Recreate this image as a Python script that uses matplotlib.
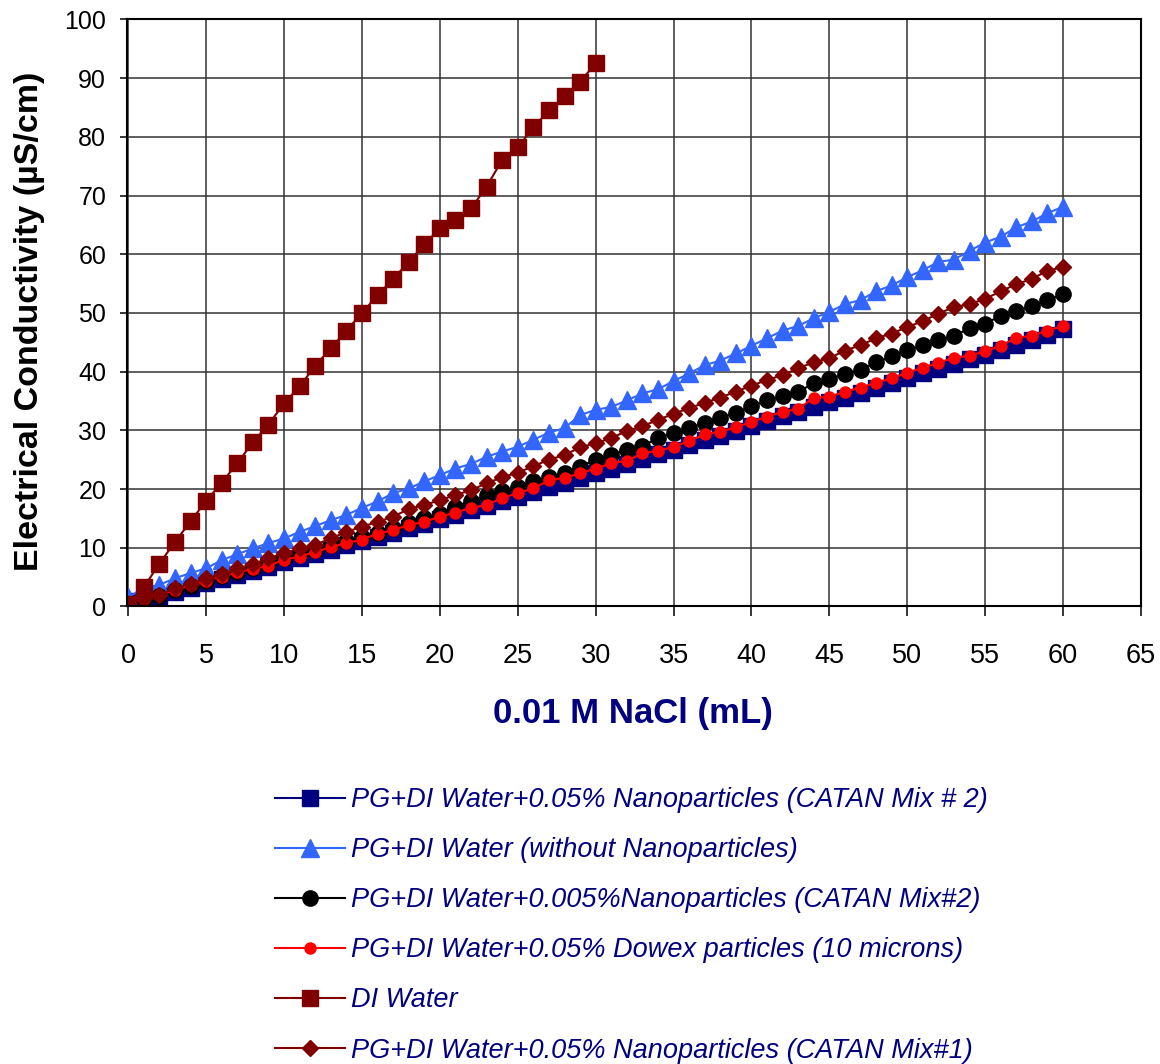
import numpy as np
import matplotlib
matplotlib.use("Agg")
import matplotlib.pyplot as plt

plt.rcParams['font.family'] = ['Liberation Sans', 'DejaVu Sans']

# titration volume (mL)
vol = list(range(0, 61))
vol_di = list(range(0, 31))

navy_sq = [1.0, 1.2, 1.8, 2.5, 3.2, 4.0, 4.7, 5.4, 6.1, 6.8, 7.6, 8.3, 9.0, 9.7, 10.4,
           11.1, 11.9, 12.6, 13.4, 14.1, 14.9, 15.6, 16.4, 17.1, 17.9, 18.7, 19.5, 20.3,
           21.1, 21.9, 22.7, 23.5, 24.3, 25.1, 25.9, 26.7, 27.5, 28.3, 29.1, 29.9, 30.8,
           31.6, 32.4, 33.2, 34.0, 34.8, 35.6, 36.4, 37.2, 38.0, 38.9, 39.7, 40.5, 41.3,
           42.1, 42.9, 43.7, 44.5, 45.4, 46.3, 47.3]
blue_tri = [1.6, 3.1, 3.7, 4.8, 5.7, 6.5, 7.9, 8.9, 9.9, 10.8, 11.6, 12.7, 13.7, 14.7,
            15.6, 16.8, 17.9, 19.3, 20.1, 21.3, 22.4, 23.5, 24.3, 25.5, 26.4, 27.2, 28.4,
            29.6, 30.4, 32.6, 33.5, 34.0, 35.1, 36.3, 37.0, 38.4, 39.7, 41.1, 41.9, 43.1,
            44.4, 45.7, 47.0, 47.8, 49.1, 50.2, 51.5, 52.2, 53.7, 54.7, 56.1, 57.3, 58.7,
            59.1, 60.6, 62.0, 63.0, 64.6, 65.6, 67.0, 68.1]
black_ci = [0.5, 1.2, 1.8, 2.8, 3.5, 4.4, 5.2, 5.9, 6.6, 7.3, 8.2, 8.9, 9.6, 10.4, 11.1,
            11.9, 12.6, 13.4, 14.3, 15.0, 15.8, 17.0, 18.0, 19.0, 19.6, 20.4, 21.3, 22.1,
            22.8, 23.8, 25.0, 25.8, 26.7, 27.3, 28.7, 29.5, 30.4, 31.3, 32.1, 33.0, 34.1,
            35.1, 35.9, 36.6, 38.0, 38.7, 39.6, 40.3, 41.6, 42.6, 43.7, 44.5, 45.4, 46.1,
            47.4, 48.2, 49.5, 50.3, 51.2, 52.2, 53.2]
red_ci = [0.6, 1.3, 2.0, 2.8, 3.6, 4.4, 5.1, 5.8, 6.4, 6.9, 8.0, 8.5, 9.3, 10.1, 10.8,
          11.4, 12.4, 13.0, 13.9, 14.4, 15.3, 16.0, 16.8, 17.3, 18.5, 19.3, 20.1, 21.5,
          21.9, 22.7, 23.5, 24.4, 24.8, 26.1, 26.5, 27.2, 28.2, 29.3, 29.8, 30.5, 31.5,
          32.3, 33.2, 33.6, 35.6, 35.7, 36.6, 37.3, 38.1, 38.9, 39.8, 40.7, 41.5, 42.4,
          42.7, 43.5, 44.4, 45.8, 46.1, 47.0, 47.8]
di_water = [0.5, 3.3, 7.3, 11.0, 14.5, 18.0, 21.1, 24.4, 28.0, 31.0, 34.6, 37.5, 41.0,
            44.0, 47.0, 50.0, 53.0, 55.8, 58.7, 61.7, 64.4, 65.8, 67.8, 71.5, 76.1, 78.2,
            81.6, 84.5, 86.9, 89.4, 92.5]
diamond = [0.5, 1.4, 2.0, 3.1, 3.8, 4.8, 5.5, 6.5, 7.2, 8.2, 9.1, 9.9, 10.5, 11.6, 12.7,
           13.6, 14.4, 15.3, 16.6, 17.3, 18.1, 19.0, 19.8, 21.0, 22.0, 22.8, 23.9, 25.0,
           25.8, 27.1, 27.8, 28.7, 29.9, 30.7, 31.8, 32.8, 33.8, 34.7, 35.6, 36.6, 37.6,
           38.6, 39.4, 40.6, 41.6, 42.3, 43.6, 44.5, 45.7, 46.5, 47.6, 48.6, 49.9, 51.0,
           51.5, 52.4, 53.7, 54.9, 55.8, 57.2, 57.8]

labels = ["PG+DI Water+0.05% Nanoparticles (CATAN Mix # 2)",
          "PG+DI Water (without Nanoparticles)",
          "PG+DI Water+0.005%Nanoparticles (CATAN Mix#2)",
          "PG+DI Water+0.05% Dowex particles (10 microns)",
          "DI Water",
          "PG+DI Water+0.05% Nanoparticles (CATAN Mix#1)"]

fig = plt.figure(figsize=(11.6, 10.64), dpi=100)
ax = fig.add_axes([0.1095, 0.43, 0.8741, 0.5517])

lw = 1.5
ax.plot(vol, navy_sq, color='#000080', lw=lw, marker='s', ms=12, label=labels[0])
ax.plot(vol, blue_tri, color='#3366FF', lw=lw, marker='^', ms=12.5, label=labels[1])
ax.plot(vol, black_ci, color='black', lw=lw, marker='o', ms=11, label=labels[2])
ax.plot(vol, red_ci, color='#FF0000', lw=lw, marker='o', ms=8, label=labels[3])
ax.plot(vol_di, di_water, color='#800000', lw=lw, marker='s', ms=11, label=labels[4])
ax.plot(vol, diamond, color='#800000', lw=lw, marker='D', ms=8.5, label=labels[5])

ax.set_xlim(-0.08, 65)
ax.set_ylim(0, 100)
ax.set_xticks(range(0, 66, 5))
ax.set_yticks(range(0, 101, 10))
ax.grid(True, color='#333333', lw=1.1)
ax.set_axisbelow(True)
for s in ax.spines.values():
    s.set_linewidth(1.5)
    s.set_color('black')
ax.tick_params(axis='x', direction='out', length=7, width=1.1, pad=19, labelsize=19.5)
ax.tick_params(axis='y', direction='out', length=5, width=1.1, pad=10, labelsize=18)

fig.text(633 / 1160, 1 - 713 / 1064, "0.01 M NaCl (mL)", ha='center', va='center',
         fontsize=25, fontweight='bold', color='#000080')
fig.text(30 / 1160, 1 - 321 / 1064, "Electrical Conductivity (µS/cm)", ha='center',
         va='center', rotation=90, fontsize=24.5, fontweight='bold', color='black')

leg = fig.legend(loc='upper left', bbox_to_anchor=(275 / 1160, 1 - 787 / 1064),
                 frameon=False, borderpad=0, borderaxespad=0, handlelength=2.6,
                 handletextpad=0.2, labelspacing=0.89, fontsize=19.5)
for t in leg.get_texts():
    t.set_color('#000080')
    t.set_fontstyle('italic')

fig.savefig("out.png", dpi=100)
